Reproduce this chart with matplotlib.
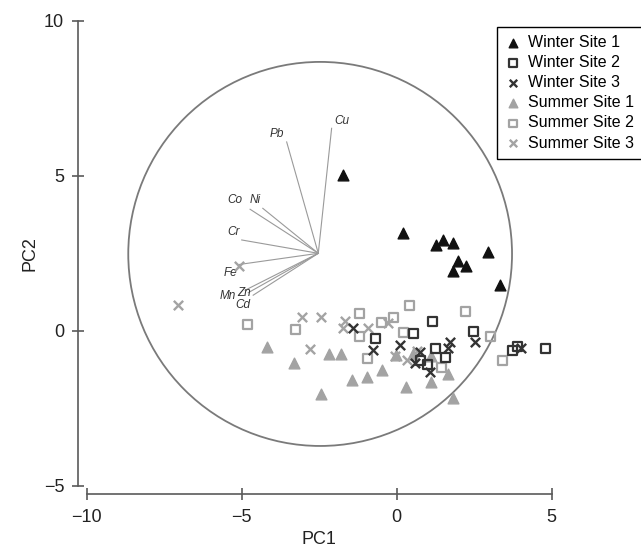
import matplotlib.pyplot as plt
import numpy as np
from matplotlib.patches import Circle

plt.rcParams['font.family'] = ['Liberation Sans', 'DejaVu Sans']

# PCA scores
w1_x = [-1.72, 0.21, 1.26, 1.49, 1.81, 1.98, 1.80, 2.25, 2.94, 3.34]
w1_y = [5.02, 3.14, 2.77, 2.93, 2.84, 2.25, 1.93, 2.09, 2.55, 1.48]

w2_x = [1.15, 0.55, -0.67, 2.49, 1.26, 1.58, 0.77, 0.98, 3.74, 3.90, 4.81]
w2_y = [0.29, -0.08, -0.26, -0.03, -0.56, -0.87, -0.96, -1.07, -0.64, -0.51, -0.56]

w3_x = [-1.42, -0.77, 0.10, 0.58, 0.74, 1.07, 1.71, 1.65, 2.54, 4.01]
w3_y = [0.08, -0.62, -0.46, -1.05, -0.67, -1.32, -0.35, -0.56, -0.35, -0.56]

s1_x = [-4.18, -3.30, -2.44, -2.17, -1.80, -1.45, -0.95, -0.49, -0.03, 0.30, 0.53, 1.10, 1.12, 1.65, 1.81]
s1_y = [-0.51, -1.03, -2.04, -0.76, -0.76, -1.59, -1.50, -1.26, -0.78, -1.80, -0.73, -1.64, -0.81, -1.39, -2.18]

s2_x = [-4.82, -3.25, -1.20, -1.20, -0.94, -0.49, -0.11, 0.21, 0.42, 1.44, 2.22, 3.03, 3.40]
s2_y = [0.21, 0.03, 0.56, -0.17, -0.89, 0.26, 0.44, -0.06, 0.83, -1.18, 0.64, -0.19, -0.94]

s3_x = [-7.05, -5.09, -3.06, -2.44, -1.66, -1.72, -2.81, -0.92, -0.27, -0.06, 0.32, 0.66]
s3_y = [0.83, 2.09, 0.44, 0.44, 0.32, 0.08, -0.60, 0.08, 0.24, -0.81, -0.94, -0.65]

# loadings (common origin) and the circle
origem = (-2.53, 2.50)
centro = (-2.47, 2.48)
raio = 6.19
elementos = ['Cu', 'Pb', 'Co', 'Ni', 'Cr', 'Fe', 'Mn', 'Zn', 'Cd']
load_x = [-2.10, -3.55, -4.73, -4.32, -5.00, -5.08, -4.89, -4.79, -4.63]
load_y = [6.53, 6.09, 3.92, 3.95, 2.93, 2.14, 1.31, 1.23, 1.15]
rot_x = [-1.77, -3.87, -5.22, -4.55, -5.27, -5.35, -5.44, -4.92, -4.95]
rot_y = [6.77, 6.36, 4.21, 4.21, 3.19, 1.85, 1.13, 1.21, 0.82]

escuro = '#111111'
medio = '#333333'
claro = '#a3a3a3'

fig = plt.figure(figsize=(6.41, 5.52), dpi=100)
ax = fig.add_axes([0.1353, 0.1196, 0.7254, 0.843])

ax.add_patch(Circle(centro, raio, fill=False, edgecolor='#7a7a7a', lw=1.3, zorder=1))

for k in range(len(elementos)):
    ax.plot([origem[0], load_x[k]], [origem[1], load_y[k]], color='#9a9a9a', lw=0.8, zorder=2)
    ax.text(rot_x[k], rot_y[k], elementos[k], fontsize=8.5, style='italic', color='#333333',
            ha='center', va='center', zorder=3)

ax.scatter(w1_x, w1_y, marker='^', s=60, color=escuro, zorder=5, label='Winter Site 1')
ax.scatter(w2_x, w2_y, marker='s', s=42, facecolor='none', edgecolor=medio, linewidths=1.6,
           zorder=5, label='Winter Site 2')
ax.scatter(w3_x, w3_y, marker='x', s=45, color=medio, linewidths=1.7, zorder=5, label='Winter Site 3')
ax.scatter(s1_x, s1_y, marker='^', s=60, color=claro, zorder=4, label='Summer Site 1')
ax.scatter(s2_x, s2_y, marker='s', s=42, facecolor='none', edgecolor=claro, linewidths=1.6,
           zorder=4, label='Summer Site 2')
ax.scatter(s3_x, s3_y, marker='x', s=45, color=claro, linewidths=1.7, zorder=4, label='Summer Site 3')

ax.set_xlim(-10, 5)
ax.set_ylim(-5, 10)
ax.set_xticks([-10, -5, 0, 5])
ax.set_yticks([-5, 0, 5, 10])
ax.set_xticklabels(['\u221210', '\u22125', '0', '5'])
ax.set_yticklabels(['\u22125', '0', '5', '10'])

for lado in ['top', 'right']:
    ax.spines[lado].set_visible(False)
for lado in ['left', 'bottom']:
    ax.spines[lado].set_position(('outward', 6))
    ax.spines[lado].set_color('#5a5a5a')
    ax.spines[lado].set_linewidth(1.2)
ax.tick_params(direction='inout', length=8.5, width=1.2, color='#5a5a5a', labelsize=13,
               labelcolor='#222222', pad=6)

ax.set_xlabel('PC1', fontsize=13, color='#222222', labelpad=4)
ax.set_ylabel('PC2', fontsize=13, color='#222222', labelpad=4)

leg = ax.legend(loc='upper left', bbox_to_anchor=(0.7754, 0.951), bbox_transform=fig.transFigure,
                fontsize=11.5, frameon=True, fancybox=False, edgecolor='black', framealpha=1,
                handletextpad=0.45, handlelength=1.0, labelspacing=0.32, borderpad=0.5,
                borderaxespad=0, markerscale=0.8)
leg.get_frame().set_linewidth(1.0)

fig.savefig('out.png', dpi=100)
